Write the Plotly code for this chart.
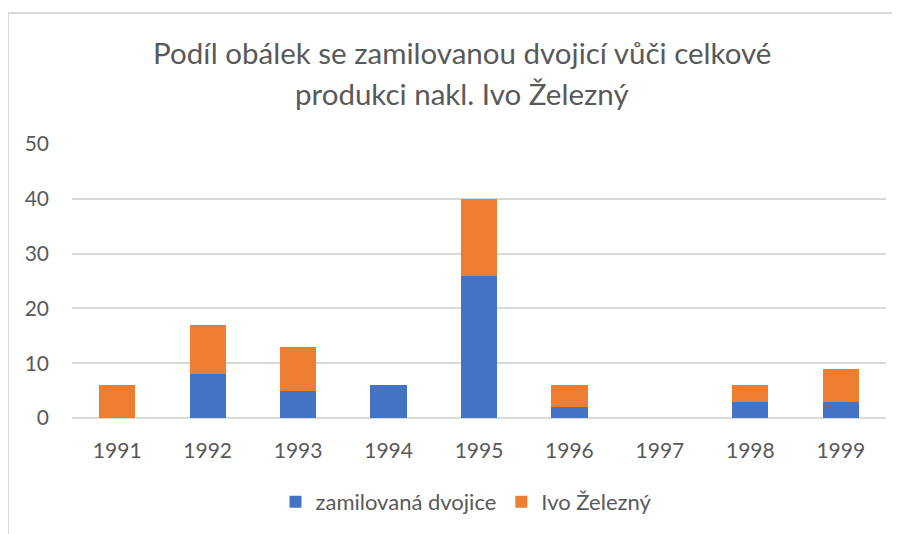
import plotly.graph_objects as go

years = ["1991", "1992", "1993", "1994", "1995", "1996", "1997", "1998", "1999"]
zamilovana = [0, 8, 5, 6, 26, 2, 0, 3, 3]
zelezny = [6, 9, 8, 0, 14, 4, 0, 3, 6]
y_ticks = [0, 10, 20, 30, 40, 50]

title_lines = ["Podíl obálek se zamilovanou dvojicí vůči celkové", "produkci nakl. Ivo Železný"]

FONT = "Lato"
TXT = "#595959"
GRID = "#d9d9d9"

fig = go.Figure()
fig.add_trace(go.Bar(x=years, y=zamilovana, name="zamilovaná dvojice",
                     marker=dict(color="#4472C4", line=dict(width=0))))
fig.add_trace(go.Bar(x=years, y=zelezny, name="Ivo Železný",
                     marker=dict(color="#ED7D31", line=dict(width=0))))

# page body has an 8px default margin; compensate so screen positions match
OFF = 8
W, H = 900 - OFF, 534 - OFF
PL, PR, PT, PB = 72, 886, 144, 418  # plot area in screen pixels
L, T = PL - OFF, PT - OFF
R, B = W - (PR - OFF), H - (PB - OFF)
pw, ph = PR - PL, PB - PT

def px(x):
    return (x - PL) / pw

def py(y):
    return (PB - y) / ph

annotations = []
for line, ypix in zip(title_lines, [53, 94]):
    annotations.append(dict(text=line, xref="paper", yref="paper", x=px(462), y=py(ypix),
                            xanchor="center", yanchor="middle", showarrow=False,
                            font=dict(family=FONT, size=29.5, color=TXT)))

fig.update_layout(
    barmode="stack",
    bargap=0.6,
    width=W, height=H,
    margin=dict(l=L, r=R, t=T, b=B, pad=0, autoexpand=False),
    paper_bgcolor="white", plot_bgcolor="white",
    font=dict(family=FONT, color=TXT, size=21),
    annotations=annotations,
    showlegend=True,
    legend=dict(orientation="h", x=px(466), y=py(502), xanchor="center", yanchor="middle",
                font=dict(family=FONT, size=22, color=TXT), traceorder="normal",
                itemwidth=30),
    xaxis=dict(type="category", showgrid=False, zeroline=False, showline=False, automargin=False,
               ticks="", tickfont=dict(size=21, color=TXT), ticklabelstandoff=18),
    yaxis=dict(range=[0, 50], tickvals=y_ticks, showgrid=True, gridcolor=GRID, gridwidth=2,
               zeroline=True, zerolinecolor=GRID, zerolinewidth=2, showline=False, automargin=False,
               ticks="", tickfont=dict(size=21, color=TXT), ticklabelstandoff=22),
    shapes=[
        dict(type="line", xref="paper", yref="paper", x0=px(8), x1=px(8), y0=py(13), y1=py(540),
             line=dict(color=GRID, width=2)),
        dict(type="line", xref="paper", yref="paper", x0=px(8), x1=px(905), y0=py(13), y1=py(13),
             line=dict(color=GRID, width=2)),
    ],
)

fig.write_html("out.html")
